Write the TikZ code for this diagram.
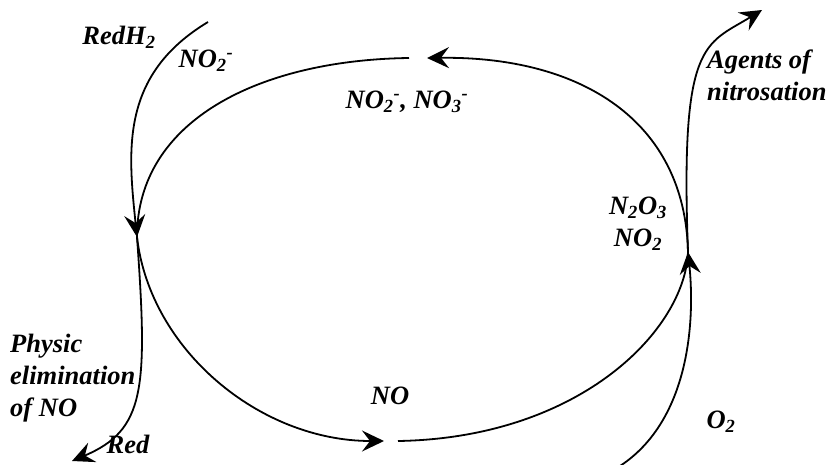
\documentclass[tikz,border=0pt]{standalone}
\usepackage{fontspec}
\setmainfont{Liberation Serif}
\usepackage{tikz}
\usetikzlibrary{arrows.meta, positioning}
\tikzstyle{species} = [font=\fontsize{26.5}{32}\selectfont\bfseries\itshape, inner sep=0pt, text centered]
\tikzstyle{branch} = [line width=1.8pt]
\tikzstyle{arrow} = [branch, -{Stealth[length=22pt, width=21pt, inset=8pt]}]

\begin{document}
\begin{tikzpicture}[x=1pt, y=-1pt, node distance=32pt]
  \useasboundingbox (0,0) rectangle (827,464);

  % points of the cycle
  \coordinate (left) at (137,237);
  \coordinate (top) at (427,58);
  \coordinate (topgap) at (409,58);
  \coordinate (bottom) at (384,441);
  \coordinate (bottomgap) at (398,441);
  \coordinate (right) at (688,252);
  \coordinate (redhin) at (208,22);
  \coordinate (agentsout) at (762,10);
  \coordinate (otwoin) at (620,466);
  \coordinate (redout) at (72,461);

  % labels
  \node (redh) [species] at (119,37) {RedH\textsubscript{2}};
  \node (nitrite) [species] at (206,61) {NO\textsubscript{2}\textsuperscript{-}};
  \node (anions) [species] at (407,102) {NO\textsubscript{2}\textsuperscript{-}, NO\textsubscript{3}\textsuperscript{-}};
  \node (agents) [species, align=left, anchor=north west] at (707,50) {Agents of\\nitrosation};
  \node (ntwoothree) [species] at (638,208) {N\textsubscript{2}O\textsubscript{3}};
  \node (notwo) [species, below of=ntwoothree] {NO\textsubscript{2}};
  \node (physic) [species, align=left, anchor=north west] at (10,334) {Physic\\elimination\\of NO};
  \node (red) [species] at (128,444) {Red};
  \node (no) [species] at (390,396) {NO};
  \node (otwo) [species] at (721,422) {O\textsubscript{2}};

  \draw [branch] (topgap) .. controls (260,60) and (137,120) .. (left);
  \draw [arrow] (redhin) .. controls (120,75) and (128,150) .. (left);
  \draw [arrow] (left) .. controls (150,350) and (260,441) .. (bottom);
  \draw [branch] (bottomgap) .. controls (580,438) and (685,330) .. (right);
  \draw [arrow] (right) .. controls (685,120) and (580,56) .. (top);
  \draw [arrow] (right) .. controls (680,40) and (705,45) .. (agentsout);
  \draw [arrow] (otwoin) .. controls (690,420) and (695,320) .. (right);
  \draw [arrow] (left) .. controls (148,390) and (145,430) .. (redout);

\end{tikzpicture}
\end{document}
